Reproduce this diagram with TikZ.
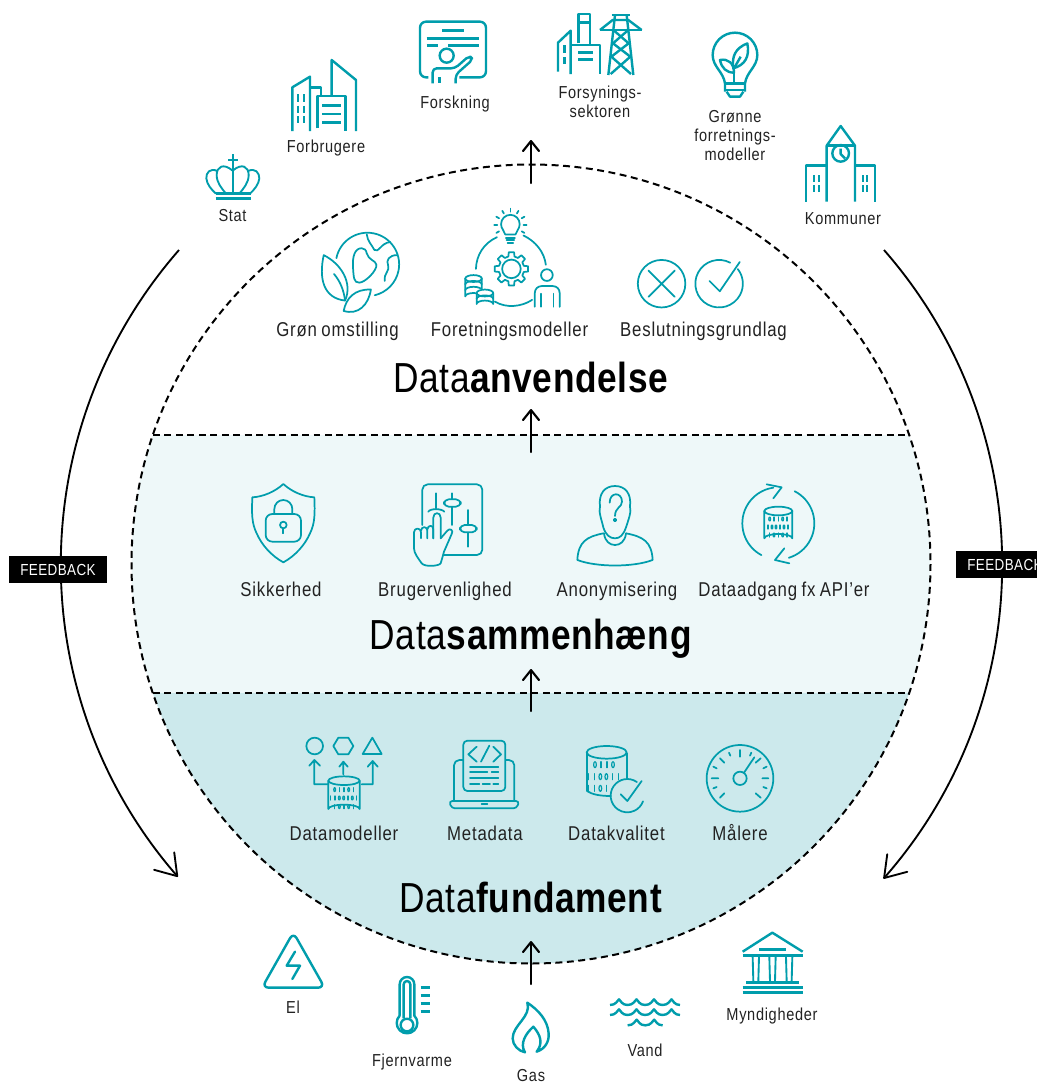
\documentclass[tikz,border=0pt]{standalone}
\usepackage{fontspec}
\setmainfont{Liberation Sans}[FakeStretch=0.84,LetterSpace=4,WordSpace=0.8]
\usetikzlibrary{arrows.meta}
\definecolor{tealc}{RGB}{0,157,172}
\definecolor{bandmid}{RGB}{238,248,249}
\definecolor{bandlow}{RGB}{204,233,236}
\definecolor{txt}{RGB}{34,34,34}
\tikzset{
  outerlab/.style={text=txt,inner sep=0pt,text height=9.3pt,text depth=0pt,font=\fontsize{13}{14.25}\selectfont},
  outermulti/.style={text=txt,inner sep=0pt,align=center,font=\fontsize{13}{14.25}\selectfont},
  innerlab/.style={text=txt,inner sep=0pt,text height=10.7pt,text depth=0pt,font=\fontsize{15}{17}\selectfont},
  headlab/.style={text=black,inner sep=0pt,text height=22.5pt,text depth=0pt,font=\fontsize{31.5}{34}\selectfont\addfontfeatures{LetterSpace=1.5}},
  fbbox/.style={fill=black,text=white,inner sep=0pt,minimum width=73.5pt,minimum height=20pt,font=\fontsize{12}{13}\selectfont\addfontfeatures{LetterSpace=2.5}},
  ringdash/.style={black,line width=1.5pt,dash pattern=on 5.2pt off 3.4pt},
  upflow/.style={black,line width=1.6pt,line cap=round,-{Straight Barb[length=7.5pt,width=12pt,round]}},
  fbarc/.style={black,line width=1.4pt,-{Straight Barb[length=15pt,width=20pt,round]}},
  oico/.style={tealc,line width=1.8pt,line join=round},
  iico/.style={tealc,line width=1.3pt,line join=round,line cap=round},
  zA/.style={shift={(190,0)},scale=1/3},
  zB/.style={shift={(530,0)},scale=1/3},
  zC/.style={shift={(260,200)},scale=0.3444},
  zD/.style={shift={(230,470)},scale=1/3},
  zE/.style={shift={(540,470)},scale=1/3},
  zF/.style={shift={(280,725)},scale=1/3},
  zG/.style={shift={(550,725)},scale=1/3},
  zH/.style={shift={(250,925)},scale=1/3},
  zI/.style={shift={(540,925)},scale=1/3},
}
\newcommand\carc[5]{\draw ({#1+#3*cos(#4)},{#2+#3*sin(#4)}) arc[start angle=#4,end angle=#5,radius=#3];}
\newcommand\digitrow[5]{\foreach \dg [count=\di from 0] in {#5}{%
  \ifnum\dg=0 \draw[line width=.9pt] ({#1+\di*#3},#2) ellipse[x radius=#4*0.45,y radius=#4];%
  \else \draw[line width=.9pt] ({#1+\di*#3},{#2-#4}) -- ({#1+\di*#3},{#2+#4});\fi}}
\newcommand\dbcyl[5]{%
  \draw (#1,#2) ellipse[x radius=#3,y radius=#4];
  \draw (#1-#3,#2) -- (#1-#3,#2+#5) arc[start angle=180,end angle=0,x radius=#3,y radius=-#4] -- (#1+#3,#2);}
\newcommand\wave[3]{\draw[line cap=butt] (#1,#2+17) \foreach \k in {1,...,#3}{ .. controls (#1+18+52.5*\k-52.5,#2+17) and (#1+22+52.5*\k-52.5,#2+4) .. (#1+27+52.5*\k-52.5,#2) .. controls (#1+32+52.5*\k-52.5,#2+4) and (#1+36+52.5*\k-52.5,#2+17) .. (#1+52.5*\k,#2+17)};}
\begin{document}
\begin{tikzpicture}[x=0.75pt,y=-0.75pt]
\clip (0,0) rectangle (1037,1083);
\fill[white] (0,0) rectangle (1037,1083);

% bands
\begin{scope}
\clip (531,564) circle[radius=399.5];
\fill[bandmid] (100,435) rectangle (960,693);
\fill[bandlow] (100,693) rectangle (960,970);
\end{scope}
\draw[ringdash] (531,564) circle[radius=399.5];
\coordinate (b1l) at (153,435); \coordinate (b1r) at (909,435);
\coordinate (b2l) at (153,693); \coordinate (b2r) at (909,693);
\draw[ringdash] (b1l) -- (b1r);
\draw[ringdash] (b2l) -- (b2r);

% flow arrows
\coordinate (a1s) at (531,984); \coordinate (a1e) at (531,941);
\coordinate (a2s) at (531,711); \coordinate (a2e) at (531,669);
\coordinate (a3s) at (531,452); \coordinate (a3e) at (531,409);
\coordinate (a4s) at (531,183); \coordinate (a4e) at (531,140);
\draw[upflow] (a1s) -- (a1e);
\draw[upflow] (a2s) -- (a2e);
\draw[upflow] (a3s) -- (a3e);
\draw[upflow] (a4s) -- (a4e);

% feedback arcs
\coordinate (fl) at (179,250); \coordinate (fr) at (884,250);
\draw[fbarc] (fl) arc[start angle=221.2,end angle=139,radius=476.8];
\draw[fbarc] (fr) arc[start angle=-41.2,end angle=41.3,radius=476.8];
\node[fbbox] (fbl) at (58,569.5) {FEEDBACK};
\node[fbbox] (fbr) at (1005,564.5) {FEEDBACK};

% ---------- outer labels
\node[outerlab] (stat) at (232.5,215) {Stat};
\node[outerlab] (forb) at (326,146) {Forbrugere};
\node[outerlab] (forsk) at (455,102) {Forskning};
\node[outermulti] (fors) at (600,102) {Forsynings-\\sektoren};
\node[outermulti] (gron) at (735,136) {Grønne\\forretnings-\\modeller};
\node[outerlab] (komm) at (843,218) {Kommuner};
\node[outerlab] (el) at (293,1007) {El};
\node[outerlab] (fjern) at (412,1060) {Fjernvarme};
\node[outerlab] (gas) at (531,1075.5) {Gas};
\node[outerlab] (vand) at (645,1050) {Vand};
\node[outerlab] (mynd) at (772,1014) {Myndigheder};

% ---------- inner labels
\node[innerlab] (l1) at (337.5,329) {Grøn omstilling};
\node[innerlab] (l2) at (509.5,329) {Foretningsmodeller};
\node[innerlab] (l3) at (703.5,329) {Beslutningsgrundlag};
\node[innerlab] (l4) at (281,589) {Sikkerhed};
\node[innerlab] (l5) at (445,589) {Brugervenlighed};
\node[innerlab] (l6) at (617,589) {Anonymisering};
\node[innerlab] (l7) at (784,589) {Dataadgang fx API’er};
\node[innerlab] (l8) at (344,833) {Datamodeller};
\node[innerlab] (l9) at (485,833) {Metadata};
\node[innerlab] (l10) at (616.5,833) {Datakvalitet};
\node[innerlab] (l11) at (740,833) {Målere};
\node[headlab] (h1) at (531,377) {Data\textbf{anvendelse}};
\node[headlab] (h2) at (531,634) {Data\textbf{sammenhæng}};
\node[headlab] (h3) at (531,897) {Data\textbf{fundament}};

% ---------- Stat
\begin{scope}[zA,oico]
\draw (77,595) -- (182,595);
\draw (77,581) -- (182,581);
\draw[line width=1.4pt] (128,463) -- (128,581) (114,480) -- (143,480);
\draw[line width=1.4pt] (128,512) .. controls (100,488) and (80,500) .. (80,525) .. controls (80,548) and (95,565) .. (108,581);
\draw[line width=1.4pt] (128,512) .. controls (156,488) and (176,500) .. (176,525) .. controls (176,548) and (161,565) .. (148,581);
\draw[line width=1.4pt] (82,513) .. controls (60,503) and (48,518) .. (49,535) .. controls (50,552) and (65,570) .. (78,581);
\draw[line width=1.4pt] (174,513) .. controls (196,503) and (208,518) .. (208,535) .. controls (207,552) and (192,570) .. (180,581);
\end{scope}
% ---------- Forbrugere
\begin{scope}[zA,oico]
\draw (307,393) -- (307,262) -- (360,230) -- (360,393);
\draw (360,262) -- (393,262) -- (393,288);
\draw (383,385) -- (383,288) -- (467,288) -- (467,393);
\draw (425,288) -- (425,180) -- (498,240) -- (498,393);
\draw (397,316) -- (453,316) (397,342) -- (453,342) (397,368) -- (453,368);
\draw[line width=1.4pt] (325,282) -- (325,305) (343,282) -- (343,305) (325,317) -- (325,340) (343,317) -- (343,340) (325,348) -- (325,370) (343,348) -- (343,370);
\end{scope}
% ---------- Forskning
\begin{scope}[zA,oico]
\draw[rounded corners=4.5pt] (715,232) -- (690,232) -- (690,65) -- (888,65) -- (888,232) -- (808,232);
\draw (757,91) -- (822,91) (710,115) -- (868,115) (710,137) -- (743,137) (775,137) -- (868,137);
\draw (770,167) circle[radius=21];
\draw[rounded corners=3pt] (728,250) -- (728,205) -- (795,205) -- (838,167) -- (849,178) -- (797,224) -- (797,250);
\draw (748,232) -- (748,250);
\end{scope}
% ---------- Forsyning
\begin{scope}[zB,oico]
\draw (84,215) -- (84,128) -- (122,92) -- (122,222);
\draw (145,130) -- (145,42) -- (180,42) -- (180,132);
\draw (145,68) -- (180,68);
\draw (122,135) -- (210,135) -- (210,222);
\draw (145,157) -- (190,157) (145,178) -- (190,178);
\draw (104,135) -- (104,160) (104,172) -- (104,192);
\draw (245,45) -- (300,45) (210,90) -- (335,90);
\draw (210,90) -- (248,60) -- (295,60) -- (335,90);
\draw (255,45) -- (235,225) (290,45) -- (310,225);
\draw (250,90) -- (296,130) -- (244,170) -- (303,222);
\draw (295,90) -- (249,130) -- (301,170) -- (242,222);
\end{scope}
% ---------- Bulb
\begin{scope}[zB,oico]
\draw (585,275) -- (585,250) .. controls (580,215) and (548,200) .. (548,165) arc[start angle=180,end angle=360,radius=67] .. controls (682,200) and (650,215) .. (645,250) -- (645,275);
\draw (585,250) -- (645,250);
\draw (585,270) -- (645,270);
\draw (590,275) -- (600,290) -- (630,290) -- (640,275);
\draw (612,250) -- (612,195);
\draw (652,130) .. controls (615,145) and (605,170) .. (610,205) .. controls (645,195) and (660,170) .. (652,130) -- cycle;
\draw (612,205) -- (632,170);
\draw (570,180) .. controls (595,175) and (612,190) .. (612,218) .. controls (590,218) and (575,205) .. (570,180) -- cycle;
\end{scope}
% ---------- Kommuner
\begin{scope}[zB,oico]
\draw (890,605) -- (890,437) -- (932,378) -- (975,437) -- (975,605);
\draw (890,437) -- (975,437);
\draw (932,460) circle[radius=25];
\draw (932,446) -- (932,462) -- (945,475);
\draw (828,605) -- (828,497) -- (890,497);
\draw (975,497) -- (1035,497) -- (1035,605);
\draw[line width=1.4pt] (852,525) -- (852,545) (866,525) -- (866,545) (852,555) -- (852,575) (866,555) -- (866,575);
\draw[line width=1.4pt] (998,525) -- (998,545) (1012,525) -- (1012,545) (998,555) -- (998,575) (1012,555) -- (1012,575);
\end{scope}

% ---------- Groen omstilling
\begin{scope}[zC,iico]
\carc{312}{187}{92}{-168.6}{76.8}
\draw (295,140) .. controls (275,140) and (268,165) .. (270,195) .. controls (272,225) and (272,240) .. (288,240) .. controls (305,240) and (340,205) .. (338,188) .. controls (336,175) and (315,175) .. (310,155) .. controls (308,145) and (303,140) .. (295,140) -- cycle;
\draw (310,100) .. controls (312,120) and (325,130) .. (332,145) .. controls (345,155) and (350,125) .. (378,122);
\draw (398,160) .. controls (375,160) and (365,175) .. (372,190) .. controls (378,205) and (358,215) .. (362,235);
\draw (185,160) .. controls (170,230) and (185,285) .. (247,292) .. controls (270,240) and (235,185) .. (185,160) -- cycle;
\draw (215,215) .. controls (232,235) and (243,260) .. (247,292);
\draw (322,260) .. controls (275,258) and (250,285) .. (243,322) .. controls (285,335) and (315,305) .. (322,260) -- cycle;
\end{scope}
% ---------- Foretningsmodeller
\begin{scope}[zC,iico]
\draw (712,100) .. controls (710,88) and (700,85) .. (700,70) arc[start angle=180,end angle=360,radius=27] .. controls (754,85) and (744,88) .. (742,100) -- cycle;
\draw (714,110) -- (740,110) (716,117) -- (738,117) (719,124) -- (735,124);
\foreach \a in {-150,-120,-90,-60,-30,0,30,180,150}{\draw ({727+38*cos(\a)},{72+38*sin(\a)}) -- ({727+47*cos(\a)},{72+47*sin(\a)});}
\draw (627,200) .. controls (628,160) and (650,125) .. (688,108);
\draw (765,103) .. controls (800,120) and (825,150) .. (830,188);
\draw (682,295) .. controls (715,315) and (760,310) .. (790,290);
\draw[shift={(730,200)}] ({-14}:37) \foreach \a in {0,45,...,315}{ -- ({\a-14}:37) -- ({\a-9}:49) -- ({\a+9}:49) -- ({\a+14}:37)} -- cycle;
\draw (730,200) circle[radius=27];
\dbcyl{620}{228}{24}{10}{52}
\draw (596,245) arc[start angle=180,end angle=0,x radius=24,y radius=-10];
\draw (596,262) arc[start angle=180,end angle=0,x radius=24,y radius=-10];
\fill[white] (628,258) -- (678,258) -- (678,308) -- (628,308) -- cycle;
\dbcyl{653}{270}{24}{10}{32}
\draw (629,287) arc[start angle=180,end angle=0,x radius=24,y radius=-10];
\draw (833,218) circle[radius=17];
\draw[rounded corners=5pt] (798,310) -- (798,250) -- (870,250) -- (870,310);
\draw (815,272) -- (815,310) (852,272) -- (852,310);
\end{scope}
% ---------- Beslutning
\begin{scope}[zC,iico]
\draw (1166,243) circle[radius=69];
\draw (1128,205) -- (1204,281) (1204,205) -- (1128,281);
\carc{1333}{243}{69}{-62}{-398}
\draw (1305,235) -- (1335,265) -- (1393,180);
\end{scope}

% ---------- Sikkerhed
\begin{scope}[zD,iico]
\draw (160,42) .. controls (135,65) and (100,80) .. (67,82) .. controls (65,130) and (65,160) .. (80,190) .. controls (95,225) and (125,258) .. (160,277) .. controls (195,258) and (225,225) .. (240,190) .. controls (255,160) and (255,130) .. (253,82) .. controls (220,80) and (185,65) .. (160,42) -- cycle;
\draw[rounded corners=5pt] (107,132) rectangle (213,215);
\draw (133,132) -- (133,117) arc[start angle=180,end angle=360,radius=27] -- (187,132);
\draw (160,165) circle[radius=10];
\draw (160,175) -- (160,190);
\end{scope}
% ---------- Brugervenlighed
\begin{scope}[zD,iico]
\draw[rounded corners=4pt] (577,165) -- (577,43) -- (757,43) -- (757,255) -- (640,255);
\draw (618,70) -- (618,115);
\draw (595,125) .. controls (600,115) and (635,115) .. (643,125);
\draw (665,70) -- (665,165);
\draw[rounded corners=3.5pt,fill=bandmid] (642,88) rectangle (692,110);
\draw (713,120) -- (713,230);
\draw[rounded corners=3.5pt,fill=bandmid] (690,165) rectangle (740,187);
\draw[fill=bandmid] (575,280) .. controls (565,265) and (552,250) .. (552,235) -- (552,187) .. controls (552,172) and (573,172) .. (573,187) -- (573,205);
\draw (573,182) .. controls (574,168) and (592,168) .. (592,182) -- (592,205);
\draw (592,178) .. controls (594,164) and (610,164) .. (610,178) -- (610,205);
\draw (610,205) -- (610,143) .. controls (610,125) and (632,125) .. (632,143) -- (632,205);
\draw (632,205) -- (652,182) .. controls (660,172) and (672,182) .. (665,192) -- (642,245) .. controls (638,260) and (635,270) .. (632,280) .. controls (628,288) and (585,292) .. (575,280);
\end{scope}
% ---------- Anonymisering
\begin{scope}[zE,iico]
\draw (190,172) .. controls (185,150) and (175,125) .. (180,110) .. controls (175,70) and (195,48) .. (225,48) .. controls (255,48) and (275,70) .. (270,110) .. controls (275,125) and (265,150) .. (258,172) .. controls (250,195) and (240,205) .. (225,205) .. controls (210,205) and (197,195) .. (190,172) -- cycle;
\draw (192,190) .. controls (195,215) and (210,225) .. (225,225) .. controls (240,225) and (255,215) .. (258,190);
\draw (190,190) .. controls (140,200) and (115,215) .. (112,270) .. controls (170,292) and (280,292) .. (338,270) .. controls (335,215) and (310,200) .. (258,190);
\draw (209,98) .. controls (209,65) and (246,65) .. (246,95) .. controls (246,112) and (225,112) .. (225,138);
\draw (225,150) circle[radius=4];
\end{scope}
% ---------- Dataadgang
\begin{scope}[zE,iico]
\carc{715}{160}{108}{118}{262}
\carc{715}{160}{108}{-63}{73}
\draw (680,43) -- (725,52) -- (700,85);
\draw (733,235) -- (705,270) -- (748,280);
\dbcyl{715}{123}{42}{13}{82}
\digitrow{689}{147}{13}{6}{0,1,1,0,1}
\digitrow{684}{171}{12}{6}{1,0,0,1,0,1}
\digitrow{689}{195}{13}{6}{1,0,1,0,1}
\end{scope}

% ---------- Datamodeller
\begin{scope}[zF,iico]
\draw (104,63) circle[radius=25];
\draw (160,63) -- (175,38) -- (205,38) -- (220,63) -- (205,88) -- (175,88) -- cycle;
\draw (277,38) -- (305,87) -- (248,87) -- cycle;
\draw (145,178) -- (103,178) -- (103,105) (88,122) -- (103,105) -- (120,122);
\draw (190,148) -- (190,110) (178,125) -- (190,110) -- (203,125);
\draw (245,178) -- (278,178) -- (278,108) (263,125) -- (278,108) -- (293,125);
\dbcyl{192}{167}{47}{13}{85}
\digitrow{164}{194}{14}{6}{0,1,1,0,1}
\digitrow{152}{219}{13}{6}{1,1,0,0,1,0,1}
\digitrow{164}{245}{14}{6}{1,0,1,0,1}
\end{scope}
% ---------- Metadata
\begin{scope}[zF,iico]
\draw[rounded corners=4pt] (522,228) -- (522,105) -- (550,105);
\draw[rounded corners=4pt] (678,105) -- (703,105) -- (703,228);
\draw[rounded corners=2.5pt] (507,228) -- (718,228) -- (710,250) -- (515,250) -- cycle;
\draw (605,238) -- (622,238);
\draw[rounded corners=3pt] (550,47) rectangle (676,198);
\draw (590,65) -- (565,88) -- (590,110) (628,62) -- (603,110) (640,65) -- (663,88) -- (640,110);
\draw (570,125) -- (655,125) (570,142) -- (622,142) (635,142) -- (655,142) (570,160) -- (655,160) (570,178) -- (598,178) (608,178) -- (630,178) (640,178) -- (655,178);
\end{scope}
% ---------- Datakvalitet
\begin{scope}[zG,iico]
\draw (170,82) ellipse[x radius=60,y radius=19];
\draw (111,85) -- (111,198) .. controls (125,208) and (150,213) .. (182,213);
\draw (230,85) -- (230,160);
\digitrow{135}{119}{18}{9}{0,1,1,0}
\digitrow{115}{155}{18}{9}{1,1,0,0,1,1}
\digitrow{115}{190}{18}{9}{1,1,0,1}
\carc{232}{212}{50}{-55}{-340}
\draw (212,208) -- (232,228) -- (275,168);
\end{scope}
% ---------- Maalere
\begin{scope}[zG,iico]
\draw (570,160) circle[radius=100];
\draw (570,160) circle[radius=20];
\draw (582,143) -- (613,97);
\draw (485,160) -- (505,160) (510,218) -- (523,205) (510,100) -- (523,113) (570,75) -- (570,95) (637,160) -- (655,160) (617,205) -- (632,218) (632,100) -- (617,113);
\draw (537,83) -- (541,92) (490,125) -- (500,130) (490,190) -- (500,186) (600,92) -- (604,83) (640,130) -- (650,125) (640,186) -- (650,190);
\end{scope}

% ---------- El
\begin{scope}[zH,oico]
\draw[rounded corners=5pt] (130,22) -- (224,188) -- (36,188) -- cycle;
\draw[line cap=round] (135,80) -- (110,122) -- (150,122) -- (127,162);
\end{scope}
% ---------- Fjernvarme
\begin{scope}[zH,oico]
\draw (449,272) -- (449,178) arc[start angle=180,end angle=360,radius=22] -- (493,272) arc[start angle=-45,end angle=225,radius=31] -- cycle;
\draw (461,280) -- (461,178) arc[start angle=180,end angle=360,radius=10] -- (481,280);
\draw (471,300) circle[radius=19];
\draw (512,188) -- (540,188) (512,212) -- (540,212) (512,236) -- (540,236) (512,260) -- (540,260);
\end{scope}
% ---------- Gas
\begin{scope}[zH,oico]
\draw (832,233) .. controls (845,275) and (788,300) .. (788,340) .. controls (788,360) and (805,378) .. (825,382) .. controls (808,355) and (828,325) .. (850,305) .. controls (872,330) and (880,355) .. (860,380) .. controls (885,372) and (898,350) .. (896,325) .. controls (893,285) and (865,255) .. (832,233) -- cycle;
\end{scope}
% ---------- Vand
\begin{scope}[zI,oico]
\wave{210}{223}{4}
\wave{210}{253}{4}
\wave{263}{284}{2}
\end{scope}
% ---------- Myndigheder
\begin{scope}[zI,oico]
\draw (608,80) -- (697,23) -- (788,80);
\draw (658,74) -- (738,74);
\draw (608,92) -- (788,92);
\draw[line width=1.4pt] (638,96) -- (640,168) (657,96) -- (655,168) (688,96) -- (690,168) (707,96) -- (705,168) (738,96) -- (740,168) (757,96) -- (755,168);
\draw (618,172) -- (778,172) (608,187) -- (788,187) (608,202) -- (788,202);
\end{scope}
\end{tikzpicture}
\end{document}
